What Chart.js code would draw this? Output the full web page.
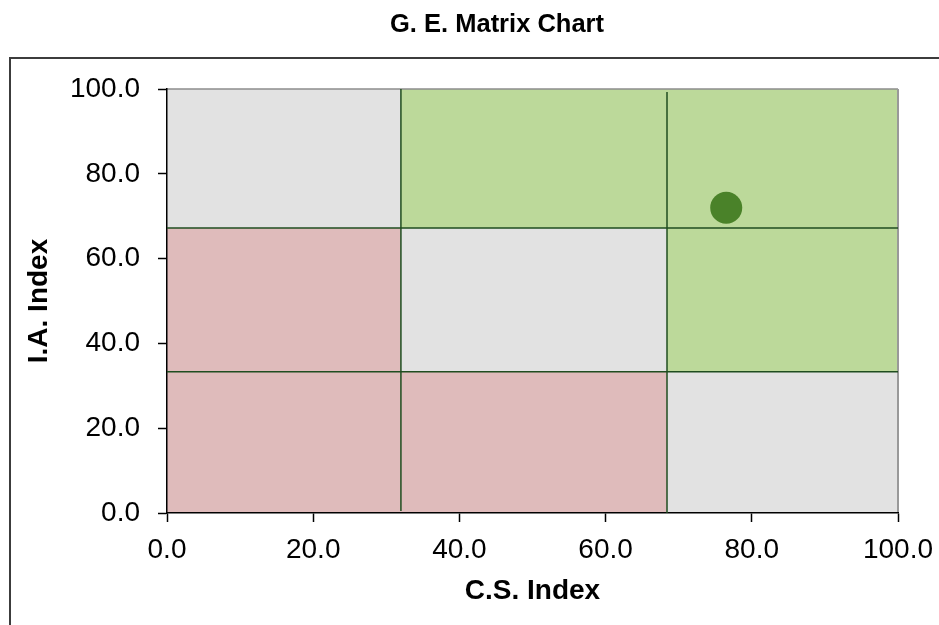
<!DOCTYPE html>
<html><head><meta charset="utf-8">
<script src="https://cdn.jsdelivr.net/npm/chart.js@4/dist/chart.umd.min.js"></script>
<style>
html,body{margin:0;padding:0;background:#fff;overflow:hidden;width:939px;height:625px}
#frame{position:absolute;left:9px;top:57px;width:1200px;height:1000px;border:2px solid #3c3c3c;box-sizing:border-box}
#c{position:absolute;left:0;top:0}
</style></head><body>
<div id="frame"></div>
<canvas id="c" width="977" height="625"></canvas>
<script>
// ---- data ----
const xBounds = [0, 32, 68.4, 100];          // C.S. Index zone boundaries
const yBounds = [0, 33.3, 67.2, 100];        // I.A. Index zone boundaries
const zoneColors = [                          // rows bottom -> top, cols left -> right
  ['#dfbbbb', '#dfbbbb', '#e2e2e2'],
  ['#dfbbbb', '#e2e2e2', '#bcd99a'],
  ['#e2e2e2', '#bcd99a', '#bcd99a']
];
const tickValues = [0, 20, 40, 60, 80, 100];
const pointX = [76.5];
const pointY = [72];
const divider1X = [32, 32],     divider1Y = [0.5, 100];
const divider2X = [68.4, 68.4], divider2Y = [0, 99.3];
const divider3X = [0, 100],     divider3Y = [67.2, 67.2];
const divider4X = [0, 100],     divider4Y = [33.3, 33.3];

const FONT = "'Liberation Sans', Arial, sans-serif";
const pts = (xs, ys) => xs.map((x, i) => ({x, y: ys[i]}));
const lineColor = '#1f4d1f';
const lineDs = (xs, ys) => ({
  type: 'line', data: pts(xs, ys), showLine: true, borderColor: lineColor,
  borderWidth: 1.5, pointRadius: 0, fill: false, order: 1, tension: 0
});

const zonesPlugin = {
  id: 'zones',
  beforeDraw(chart) {
    const {ctx, chartArea: a, scales: {x, y}} = chart;
    ctx.save();
    for (let r = 0; r < 3; r++) {
      for (let c = 0; c < 3; c++) {
        const x0 = x.getPixelForValue(xBounds[c]), x1 = x.getPixelForValue(xBounds[c + 1]);
        const y0 = y.getPixelForValue(yBounds[r + 1]), y1 = y.getPixelForValue(yBounds[r]);
        ctx.fillStyle = zoneColors[r][c];
        ctx.fillRect(x0, y0, x1 - x0, y1 - y0);
      }
    }
    ctx.strokeStyle = '#8c8c8c';
    ctx.lineWidth = 1.5;
    ctx.beginPath();
    ctx.moveTo(a.left, a.top); ctx.lineTo(a.right, a.top);
    ctx.stroke();
    ctx.strokeStyle = '#999999';
    ctx.lineWidth = 2;
    ctx.beginPath();
    ctx.moveTo(a.right, a.top); ctx.lineTo(a.right, a.bottom);
    ctx.stroke();
    ctx.restore();
  }
};

new Chart(document.getElementById('c'), {
  type: 'scatter',
  data: {
    datasets: [
      {data: pts(pointX, pointY), backgroundColor: '#4a8229', borderWidth: 0,
       pointRadius: 16, pointHoverRadius: 16, order: 0},
      lineDs(divider1X, divider1Y),
      lineDs(divider2X, divider2Y),
      lineDs(divider3X, divider3Y),
      lineDs(divider4X, divider4Y)
    ]
  },
  options: {
    responsive: false,
    animation: false,
    devicePixelRatio: 1,
    layout: {padding: {left: 17, right: 0, top: 0, bottom: 0}},
    plugins: {
      legend: {display: false},
      tooltip: {enabled: false},
      title: {
        display: true, text: 'G. E. Matrix Chart', color: '#000',
        font: {family: FONT, size: 25.5, weight: 'bold'},
        padding: {top: 10, bottom: 48.4}
      }
    },
    scales: {
      x: {
        type: 'linear', min: 0, max: 100,
        afterBuildTicks: s => { s.ticks = tickValues.map(v => ({value: v})); },
        afterFit: s => { s.height = 112; s.paddingRight = 79; },
        ticks: {callback: v => v.toFixed(1), color: '#000', padding: 11,
                font: {family: FONT, size: 28}, maxRotation: 0, autoSkip: false},
        grid: {drawOnChartArea: false, drawTicks: true, tickLength: 9, tickColor: '#000', tickWidth: 1.5},
        border: {display: true, color: '#000', width: 1.5},
        title: {display: true, text: 'C.S. Index', color: '#000',
                font: {family: FONT, size: 28, weight: 'bold'}, padding: {top: 0, bottom: 17.2}}
      },
      y: {
        type: 'linear', min: 0, max: 100,
        afterBuildTicks: s => { s.ticks = tickValues.map(v => ({value: v})); },
        afterFit: s => { s.width = 150; },
        ticks: {callback: v => v.toFixed(1), color: '#000', padding: 18,
                font: {family: FONT, size: 28}, autoSkip: false},
        grid: {drawOnChartArea: false, drawTicks: true, tickLength: 9, tickColor: '#000', tickWidth: 1.5},
        border: {display: true, color: '#000', width: 1.5},
        title: {display: true, text: 'I.A. Index', color: '#000',
                font: {family: FONT, size: 28, weight: 'bold'}, padding: {top: 5.2, bottom: 0}}
      }
    }
  },
  plugins: [zonesPlugin]
});
</script>
</body></html>
